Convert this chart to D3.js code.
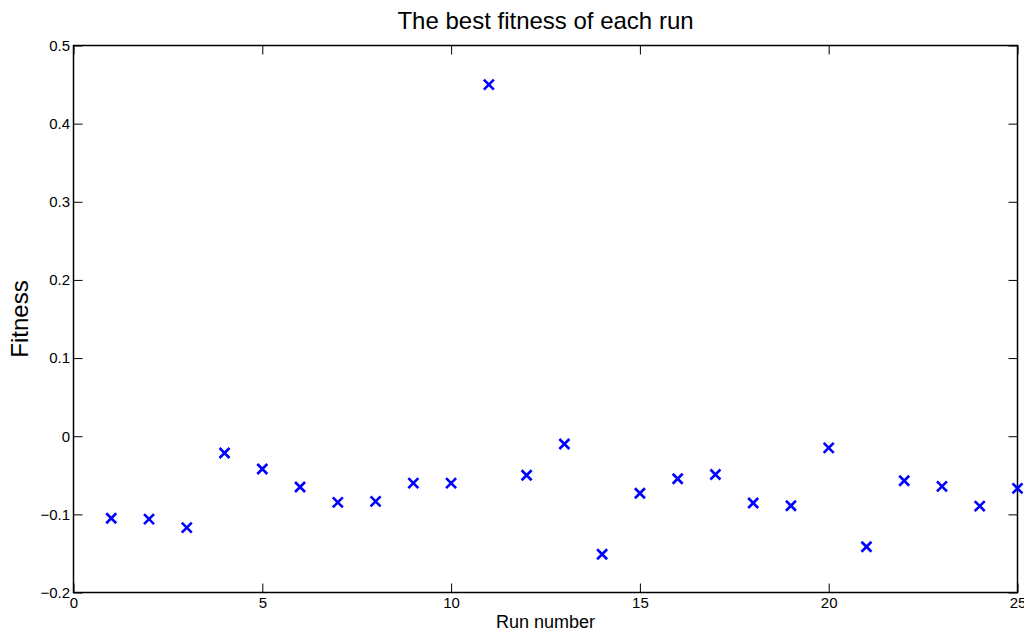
<!DOCTYPE html>
<html>
<head>
<meta charset="utf-8">
<script src="https://cdn.jsdelivr.net/npm/d3@7"></script>
<style>
  html, body { margin: 0; padding: 0; background: #fff; }
  svg { display: block; font-family: "Liberation Sans", Arial, Helvetica, sans-serif; }
</style>
</head>
<body>
<svg id="chart" width="1024" height="629"></svg>
<script>
// Best fitness reached in each of the 25 runs
const runs = [1, 2, 3, 4, 5, 6, 7, 8, 9, 10, 11, 12, 13, 14, 15, 16, 17, 18, 19, 20, 21, 22, 23, 24, 25];
const fitness = [-0.105, -0.106, -0.117, -0.0215, -0.042, -0.065, -0.0847, -0.0834, -0.060, -0.060,
                 0.450, -0.050, -0.010, -0.151, -0.073, -0.0544, -0.049, -0.0855, -0.089, -0.015,
                 -0.1414, -0.057, -0.0642, -0.0894, -0.0668];
const xTicks = [0, 5, 10, 15, 20, 25];
const yTicks = [-0.2, -0.1, 0, 0.1, 0.2, 0.3, 0.4, 0.5];

const svg = d3.select("#chart");
const plotL = 73.5, plotR = 1017.5, plotT = 45.5, plotB = 592.5;

const x = d3.scaleLinear().domain([0, 25]).range([plotL, plotR]);
const y = d3.scaleLinear().domain([-0.2, 0.5]).range([plotB, plotT]);

const fmtY = d => d === 0 ? "0" : d3.format(".1f")(d).replace("-", "\u2212");
const tickLen = 9;

// Axis box
svg.append("rect")
  .attr("x", plotL).attr("y", plotT)
  .attr("width", plotR - plotL).attr("height", plotB - plotT)
  .attr("fill", "none").attr("stroke", "#000").attr("stroke-width", 1.5);

// Bottom axis: inward ticks, labels below
const gx = svg.append("g").attr("transform", `translate(0,${plotB})`)
  .call(d3.axisBottom(x).tickValues(xTicks).tickSize(-tickLen).tickPadding(5).tickFormat(d3.format("d")));
// Left axis
const gy = svg.append("g").attr("transform", `translate(${plotL},0)`)
  .call(d3.axisLeft(y).tickValues(yTicks).tickSize(-tickLen).tickPadding(3.5).tickFormat(fmtY));
// Top and right mirror ticks
const gxt = svg.append("g").attr("transform", `translate(0,${plotT})`)
  .call(d3.axisTop(x).tickValues(xTicks).tickSize(-tickLen).tickFormat(""));
const gyr = svg.append("g").attr("transform", `translate(${plotR},0)`)
  .call(d3.axisRight(y).tickValues(yTicks).tickSize(-tickLen).tickFormat(""));

[gx, gy, gxt, gyr].forEach(g => {
  g.select(".domain").remove();
  g.selectAll(".tick line").attr("stroke", "#000").attr("stroke-width", 1);
  g.selectAll(".tick text").attr("fill", "#000").style("font-size", "15px")
    .style("font-family", "'Liberation Sans', Arial, sans-serif");
});

// Markers: blue "x"
const s = 5;
const marks = svg.append("g").attr("stroke", "#0000ff").attr("stroke-width", 2.6).attr("fill", "none");
runs.forEach((r, i) => {
  const cx = x(r), cy = y(fitness[i]);
  marks.append("path")
    .attr("d", `M${cx - s},${cy - s}L${cx + s},${cy + s}M${cx - s},${cy + s}L${cx + s},${cy - s}`);
});

// Title and axis labels
svg.append("text")
  .attr("x", (plotL + plotR) / 2).attr("y", 29)
  .attr("text-anchor", "middle").style("font-size", "24px")
  .text("The best fitness of each run");

svg.append("text")
  .attr("x", (plotL + plotR) / 2).attr("y", 628)
  .attr("text-anchor", "middle").style("font-size", "18px")
  .text("Run number");

svg.append("text")
  .attr("transform", `translate(28,${(plotT + plotB) / 2}) rotate(-90)`)
  .attr("text-anchor", "middle").style("font-size", "24px")
  .text("Fitness");
</script>
</body>
</html>
